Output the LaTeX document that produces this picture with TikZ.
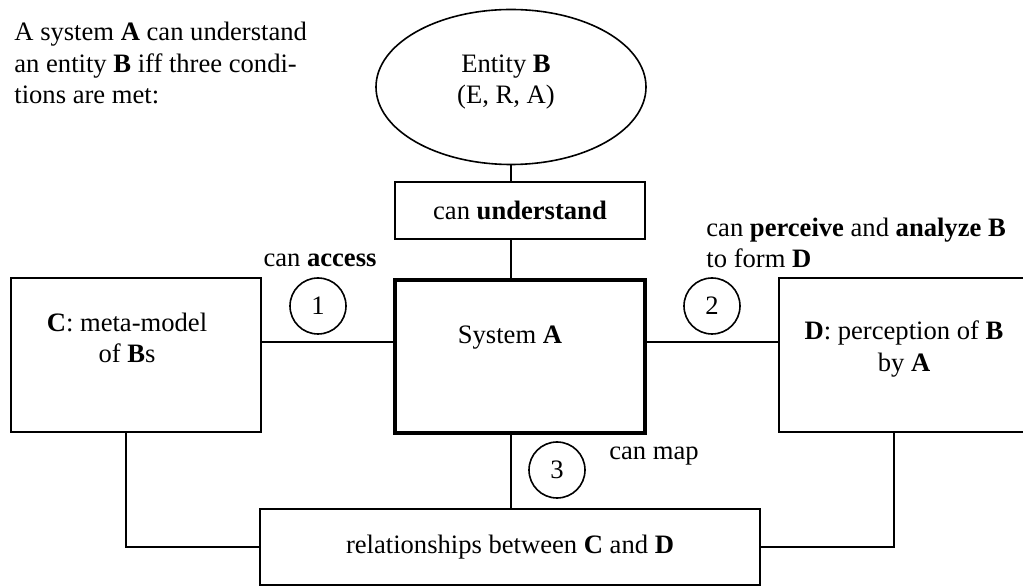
\documentclass[tikz,border=0pt]{standalone}
\usepackage{fontspec}
\setmainfont{Liberation Serif}
\usetikzlibrary{positioning, calc, shapes.geometric}

\begin{document}
\begin{tikzpicture}[
    x=0.5pt, y=-0.5pt,
    every node/.style={font=\fontsize{13.3}{15.7}\selectfont,inner sep=0pt},
    box/.style={draw,line width=0.8pt,minimum width=125pt,minimum height=77pt},
    sysbox/.style={draw,line width=2.2pt,minimum width=124.8pt,minimum height=76.3pt},
    num/.style={draw,circle,line width=0.8pt,minimum size=28pt},
    conn/.style={draw,line width=0.8pt},
    txt/.style={align=center}
  ]
  \useasboundingbox (0,0) rectangle (1023,587);

  % intro text
  \node[align=left,anchor=west] (intro) at (14,63)
    {A system \textbf{A} can understand\\an entity \textbf{B} iff three condi-\\tions are met:};

  % shapes
  \node[ellipse,draw,line width=0.8pt,minimum width=135pt,minimum height=77.5pt] (B) at (511,87) {};
  \node[txt] (Btxt) at (506,82) {Entity \textbf{B}\\(E, R, A)};
  \node[box,minimum height=28.5pt] (U) at (520,210.5) {can \textbf{understand}};
  \node[sysbox] (A) at (520,356.5) {};
  \node[txt] (Atxt) at (510,338) {System \textbf{A}};
  \node[box] (C) at (136,355) {};
  \node[txt] (Ctxt) at (127,338) {\textbf{C}: meta-model\\of \textbf{B}s};
  \node[box] (D) at (904,355) {};
  \node[txt] (Dtxt) at (904,349) {\textbf{D}: perception of \textbf{B}\\by \textbf{A}};
  \node[box,minimum width=250pt,minimum height=38pt] (R) at (510,547) {relationships between \textbf{C} and \textbf{D}};

  % numbered conditions
  \node[num] (n1) at (318,306) {1};
  \node[num] (n2) at (712,306) {2};
  \node[num] (n3) at (557,470) {3};
  \node (l1) at (320,260) {can \textbf{access}};
  \node[align=left,anchor=west] (l2) at (706,243) {can \textbf{perceive} and \textbf{analyze B}\\to form \textbf{D}};
  \node (l3) at (654,456) {can map};

  % connectors
  \coordinate (hline) at (0,342);
  \draw[conn] (B.south) -- (B.south |- U.north);
  \draw[conn] (B.south |- U.south) -- (B.south |- A.north);
  \draw[conn] (B.south |- A.south) -- (B.south |- R.north);
  \draw[conn] (C.east |- hline) -- (A.west |- hline);
  \draw[conn] (A.east |- hline) -- (D.west |- hline);
  \draw[conn] ([xshift=-5pt]C.south) |- (R.west);
  \draw[conn] ([xshift=-5pt]D.south) |- (R.east);
\end{tikzpicture}
\end{document}
